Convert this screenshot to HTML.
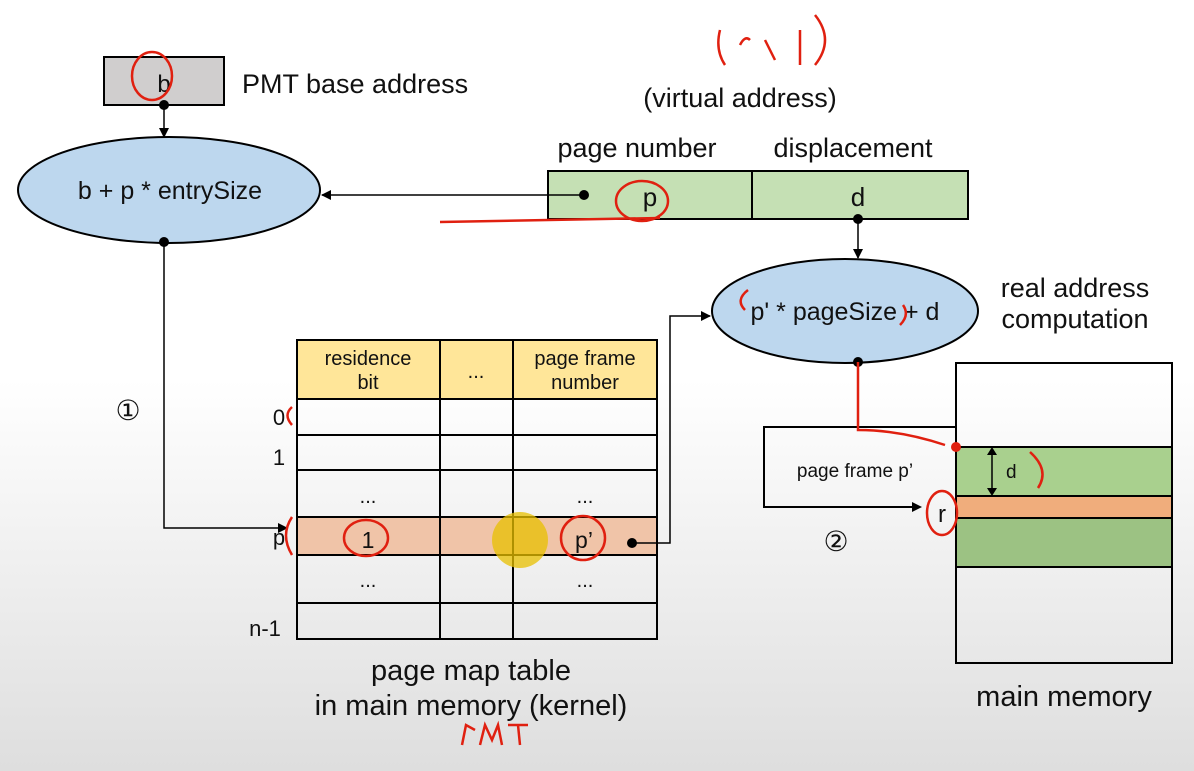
<!DOCTYPE html>
<html><head><meta charset="utf-8"><style>
html,body{margin:0;padding:0}
body{width:1194px;height:771px;overflow:hidden;background:linear-gradient(#fff 0,#fff 380px,#dedede 771px);font-family:"Liberation Sans",sans-serif}
svg{display:block}
text{font-family:"Liberation Sans",sans-serif;fill:#111}
</style></head><body>
<svg width="1194" height="771" viewBox="0 0 1194 771">
<defs><marker id="a" markerWidth="10" markerHeight="10" refX="9" refY="5" orient="auto" markerUnits="userSpaceOnUse"><path d="M0,0 L10,5 L0,10z" fill="#000"/></marker></defs>
<!-- b box -->
<rect x="104" y="57" width="120" height="48" fill="#d0cece" stroke="#000" stroke-width="2"/>
<text x="164" y="92" font-size="24" text-anchor="middle">b</text>
<text x="242" y="93" font-size="27">PMT base address</text>
<!-- ellipse 1 -->
<ellipse cx="169" cy="190" rx="151" ry="53" fill="#bdd7ee" stroke="#000" stroke-width="2"/>
<circle cx="164" cy="105" r="5"/>
<line x1="164" y1="105" x2="164" y2="137" stroke="#000" stroke-width="1.5" marker-end="url(#a)"/>
<text x="170" y="199" font-size="25" text-anchor="middle">b + p * entrySize</text>
<circle cx="164" cy="242" r="5"/>
<polyline points="164,242 164,528 287,528" fill="none" stroke="#000" stroke-width="1.5" marker-end="url(#a)"/>
<text x="128" y="420" font-size="28" text-anchor="middle">①</text>
<!-- virtual address -->
<text x="740" y="107" font-size="27" text-anchor="middle">(virtual address)</text>
<text x="637" y="157" font-size="27" text-anchor="middle">page number</text>
<text x="853" y="157" font-size="27" text-anchor="middle">displacement</text>
<rect x="548" y="171" width="420" height="48" fill="#c5e0b4" stroke="#000" stroke-width="2"/>
<line x1="752" y1="171" x2="752" y2="219" stroke="#000" stroke-width="2"/>
<text x="650" y="206" font-size="26" text-anchor="middle">p</text>
<text x="858" y="206" font-size="26" text-anchor="middle">d</text>
<circle cx="584" cy="195" r="5"/>
<line x1="584" y1="195" x2="322" y2="195" stroke="#000" stroke-width="1.5" marker-end="url(#a)"/>
<circle cx="858" cy="219" r="5"/>
<line x1="858" y1="219" x2="858" y2="258" stroke="#000" stroke-width="1.5" marker-end="url(#a)"/>
<!-- ellipse 2 -->
<ellipse cx="845" cy="311" rx="133" ry="52" fill="#bdd7ee" stroke="#000" stroke-width="2"/>
<text x="845" y="320" font-size="25" text-anchor="middle">p' * pageSize + d</text>
<text x="1075" y="297" font-size="27" text-anchor="middle">real address</text>
<text x="1075" y="328" font-size="27" text-anchor="middle">computation</text>
<circle cx="858" cy="362" r="5"/>
<!-- table -->
<rect x="297" y="340" width="360" height="59" fill="#ffe699"/>
<rect x="297" y="517" width="360" height="38" fill="#f0c4a8"/>
<g stroke="#000" stroke-width="2" fill="none">
<rect x="297" y="340" width="360" height="299"/>
<line x1="440" y1="340" x2="440" y2="639"/><line x1="513" y1="340" x2="513" y2="639"/>
<line x1="297" y1="399" x2="657" y2="399"/><line x1="297" y1="435" x2="657" y2="435"/>
<line x1="297" y1="470" x2="657" y2="470"/><line x1="297" y1="517" x2="657" y2="517"/>
<line x1="297" y1="555" x2="657" y2="555"/><line x1="297" y1="603" x2="657" y2="603"/>
</g>
<text x="368" y="365" font-size="20" text-anchor="middle">residence</text>
<text x="368" y="389" font-size="20" text-anchor="middle">bit</text>
<text x="476" y="378" font-size="20" text-anchor="middle">...</text>
<text x="585" y="365" font-size="20" text-anchor="middle">page frame</text>
<text x="585" y="389" font-size="20" text-anchor="middle">number</text>
<text x="279" y="425" font-size="22" text-anchor="middle">0</text>
<text x="279" y="465" font-size="22" text-anchor="middle">1</text>
<text x="279" y="545" font-size="22" text-anchor="middle">p</text>
<text x="265" y="636" font-size="22" text-anchor="middle">n-1</text>
<text x="368" y="503" font-size="20" text-anchor="middle">...</text>
<text x="585" y="503" font-size="20" text-anchor="middle">...</text>
<text x="368" y="587" font-size="20" text-anchor="middle">...</text>
<text x="585" y="587" font-size="20" text-anchor="middle">...</text>
<text x="368" y="548" font-size="23" text-anchor="middle">1</text>
<text x="584" y="548" font-size="23" text-anchor="middle">p’</text>
<circle cx="520" cy="540" r="28" fill="#e8c000" opacity="0.75"/>
<circle cx="632" cy="543" r="5"/>
<polyline points="632,543 670,543 670,316 710,316" fill="none" stroke="#000" stroke-width="1.5" marker-end="url(#a)"/>
<text x="471" y="680" font-size="29" text-anchor="middle">page map table</text>
<text x="471" y="715" font-size="29" text-anchor="middle">in main memory (kernel)</text>
<!-- main memory -->
<rect x="956" y="447" width="216" height="49" fill="#a9d08e"/>
<rect x="956" y="518" width="216" height="49" fill="#9cc283"/>
<rect x="956" y="496" width="216" height="22" fill="#f0ad7c"/>
<g stroke="#000" stroke-width="2" fill="none">
<rect x="956" y="363" width="216" height="300"/>
<line x1="956" y1="447" x2="1172" y2="447"/><line x1="956" y1="496" x2="1172" y2="496"/>
<line x1="956" y1="518" x2="1172" y2="518"/><line x1="956" y1="567" x2="1172" y2="567"/>
<polyline points="956,427 764,427 764,507 912,507"/>
</g>
<path d="M912,502 L922,507 L912,512z" fill="#000"/>
<line x1="992" y1="452" x2="992" y2="491" stroke="#000" stroke-width="1.5"/>
<path d="M987,455 L992,447 L997,455z M987,488 L992,496 L997,488z" fill="#000"/>
<text x="1006" y="478" font-size="19">d</text>
<text x="855" y="477" font-size="19" text-anchor="middle">page frame p’</text>
<text x="942" y="522" font-size="24" text-anchor="middle">r</text>
<text x="836" y="551" font-size="28" text-anchor="middle">②</text>
<text x="1064" y="706" font-size="29" text-anchor="middle">main  memory</text>
<!-- red annotations -->
<g stroke="#e02010" stroke-width="2.5" fill="none">
<path d="M858,362 L858,430 Q900,430 945,445"/>
<ellipse cx="152" cy="76" rx="20" ry="24"/>
<ellipse cx="642" cy="201" rx="26" ry="20"/>
<ellipse cx="366" cy="538" rx="22" ry="18"/>
<ellipse cx="583" cy="538" rx="22" ry="22"/>
<ellipse cx="942" cy="513" rx="15" ry="22"/>
<path d="M720,30 Q715,50 725,65 M740,45 Q745,35 750,40 M765,40 L775,60 M800,30 Q800,50 800,65 M815,15 Q835,40 815,65"/>
<path d="M440,222 L660,218"/>
<path d="M745,310 Q735,300 748,290 M903,305 Q910,315 900,325"/>
<path d="M292,407 Q283,415 292,425 M292,517 Q280,535 292,555"/>
<path d="M1030,452 Q1050,470 1038,488"/>
<path d="M462,745 L466,725 L475,730 M480,745 L485,725 L492,740 L498,725 L502,745 M508,725 L528,725 M518,725 L520,745"/>
</g>
<circle cx="956" cy="447" r="5" fill="#e02010"/>
</svg>
</body></html>
